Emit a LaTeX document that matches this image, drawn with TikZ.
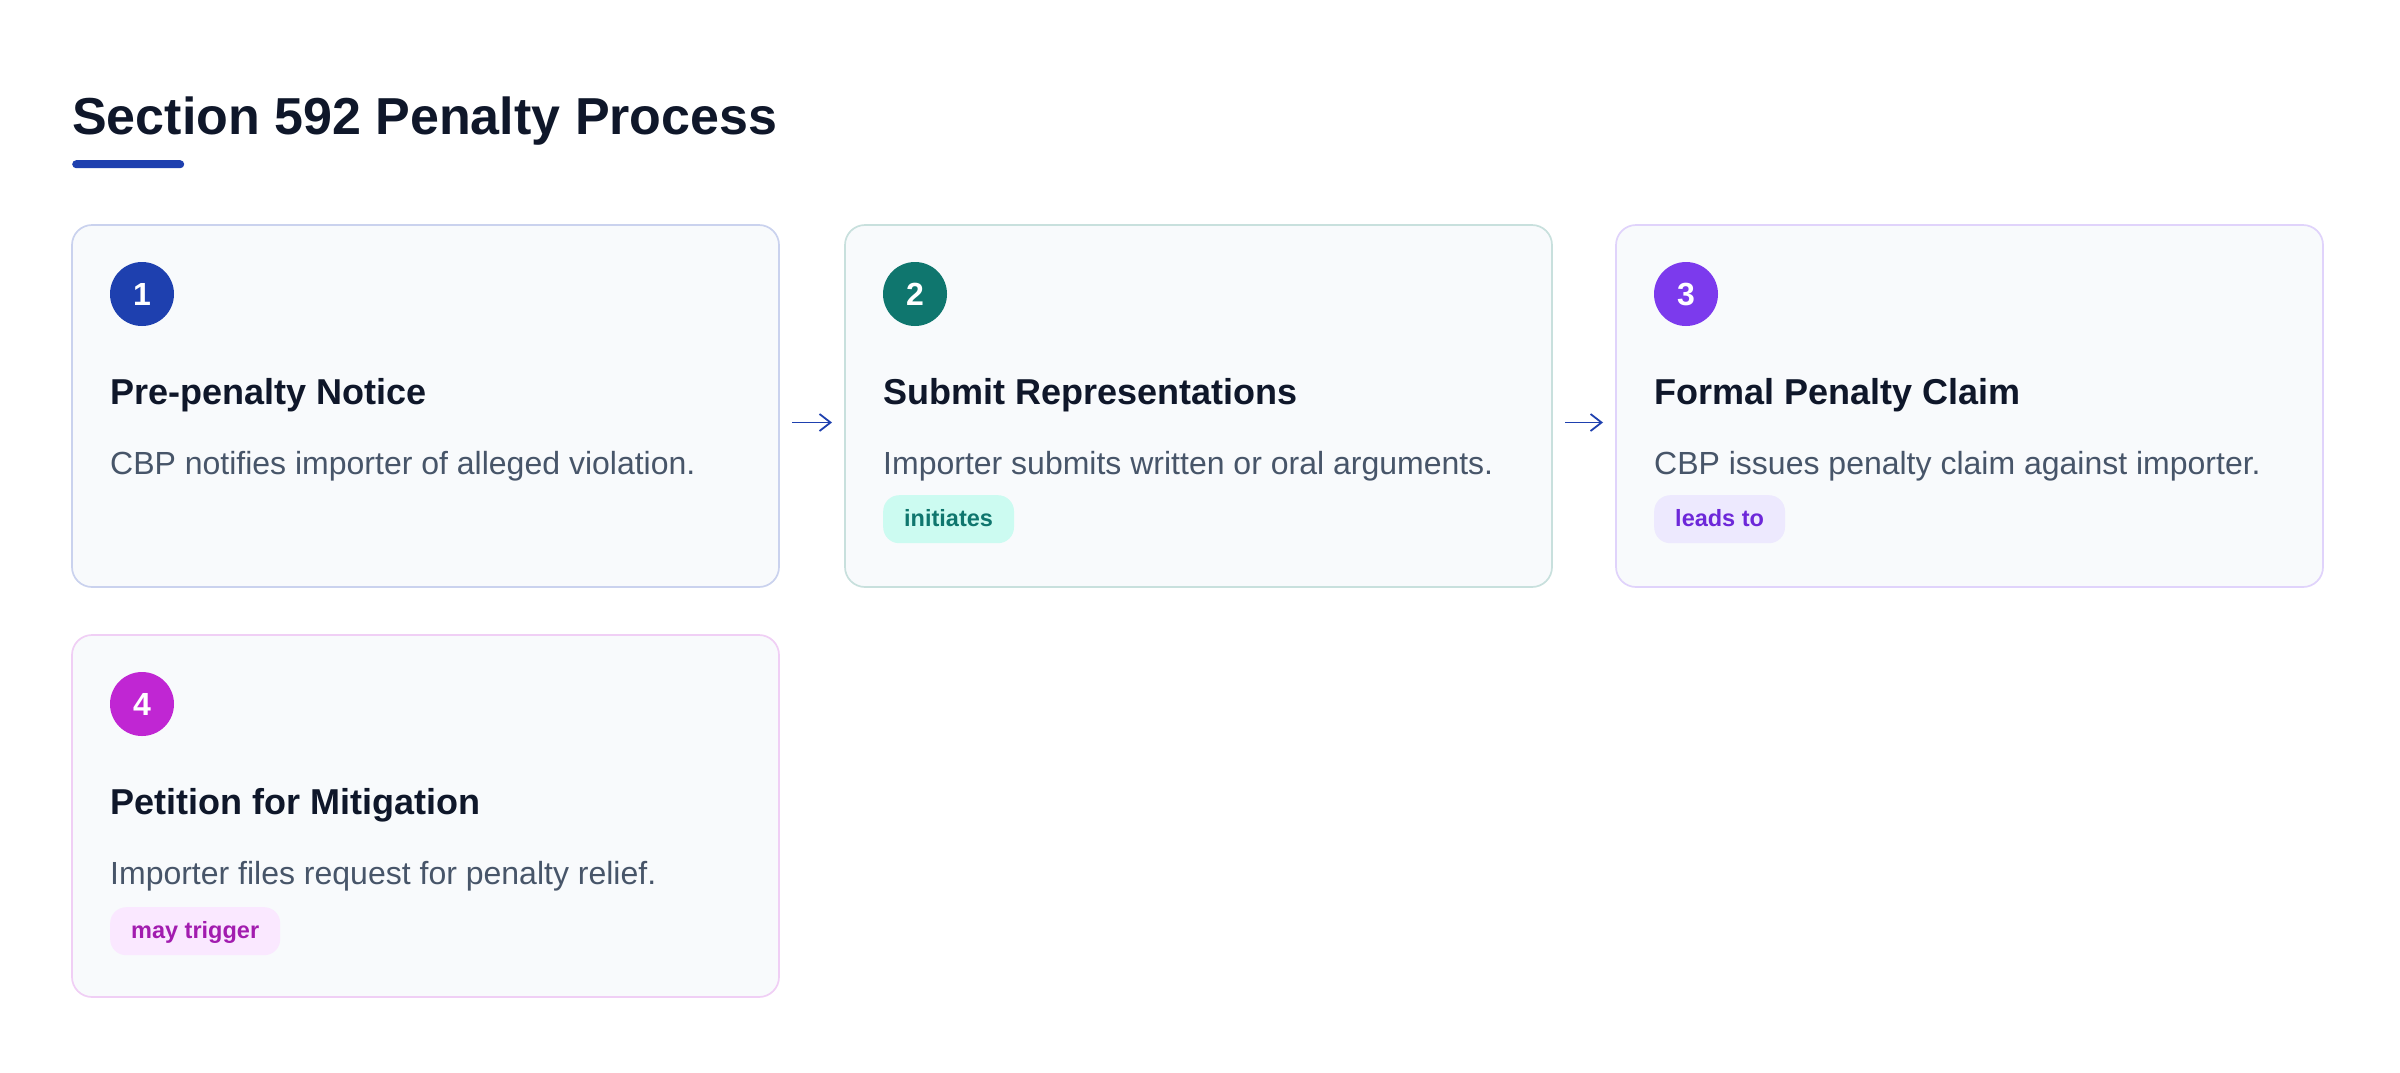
\documentclass[tikz,border=0pt]{standalone}
\usepackage{fontspec}
\setmainfont{Liberation Sans}
\usetikzlibrary{arrows.meta}
\definecolor{ink}{HTML}{0F172A}
\definecolor{slate}{HTML}{475569}
\definecolor{cardfill}{HTML}{F8FAFC}
\definecolor{accent}{HTML}{1E40AF}
\definecolor{arrowblue}{HTML}{1E40AF}
\definecolor{bordA}{HTML}{CAD2EE}
\definecolor{bordB}{HTML}{C8E0DD}
\definecolor{bordC}{HTML}{E0D3FB}
\definecolor{bordD}{HTML}{F0CFF5}
\definecolor{dotA}{HTML}{1E40AF}
\definecolor{dotB}{HTML}{0F766E}
\definecolor{dotC}{HTML}{7C3AED}
\definecolor{dotD}{HTML}{C026D3}
\definecolor{badgeBfill}{HTML}{CCFBF1}
\definecolor{badgeBtext}{HTML}{0F766E}
\definecolor{badgeCfill}{HTML}{EDE9FE}
\definecolor{badgeCtext}{HTML}{6D28D9}
\definecolor{badgeDfill}{HTML}{FAE8FF}
\definecolor{badgeDtext}{HTML}{A21CAF}
\tikzset{
  card/.style={rectangle, rounded corners=20pt, fill=cardfill, line width=1.7pt,
    minimum width=707pt, minimum height=362pt, inner sep=0pt, outer sep=0pt, anchor=north west},
  numdot/.style={circle, minimum size=64pt, inner sep=0pt, text=white,
    font=\fontsize{32}{36}\selectfont\bfseries},
  heading/.style={anchor=base west, inner sep=0pt, text=ink,
    font=\fontsize{36}{42}\selectfont\bfseries},
  desc/.style={anchor=base west, inner sep=0pt, text=slate,
    font=\fontsize{32}{38}\selectfont},
  badge/.style={anchor=north west, rounded corners=16pt, minimum height=48pt,
    inner xsep=21pt, inner ysep=0pt, text height=18.5pt, text depth=4pt,
    font=\fontsize{23.5}{28}\selectfont\bfseries},
  flow/.style={draw=arrowblue, line width=1.8pt,
    -{Straight Barb[length=11pt,width=17pt,line width=1.8pt]}}
}
\newcommand\mkcard[8]{%
  \begin{scope}[shift={(#2,#3)}]
    \node[card, draw=#4] (c#1) at (0,0) {};
    \node[numdot, fill=#5] (n#1) at (70,69) {#6};
    \node[heading] (h#1) at (38,179) {#7};
    \node[desc] (d#1) at (38,249) {#8};
  \end{scope}}
\begin{document}
\begin{tikzpicture}[x=1pt, y=-1pt]
  \useasboundingbox[fill=white] (0,0) rectangle (2400,1072);
  \node[anchor=base west, inner sep=0pt, text=ink,
    font=\fontsize{52}{60}\selectfont\bfseries] (title) at (72,134) {Section 592 Penalty Process};
  \node[fill=accent, rounded corners=4pt, minimum width=112pt, minimum height=8pt,
    inner sep=0pt, anchor=north west] (bar) at (72,160) {};

  \mkcard{1}{72}{225}{bordA}{dotA}{1}{Pre-penalty Notice}{CBP notifies importer of alleged violation.}
  \mkcard{2}{845}{225}{bordB}{dotB}{2}{Submit Representations}{Importer submits written or oral arguments.}
  \mkcard{3}{1616}{225}{bordC}{dotC}{3}{Formal Penalty Claim}{CBP issues penalty claim against importer.}
  \mkcard{4}{72}{635}{bordD}{dotD}{4}{Petition for Mitigation}{Importer files request for penalty relief.}

  \node[badge, fill=badgeBfill, text=badgeBtext] (b2) at (883,495) {initiates};
  \node[badge, fill=badgeCfill, text=badgeCtext] (b3) at (1654,495) {leads to};
  \node[badge, fill=badgeDfill, text=badgeDtext] (b4) at (110,907) {may trigger};

  \draw[flow] ([xshift=13pt, yshift=-16.5pt]c1.east) -- ([xshift=-13pt, yshift=-16.5pt]c2.west);
  \draw[flow] ([xshift=13pt, yshift=-16.5pt]c2.east) -- ([xshift=-13pt, yshift=-16.5pt]c3.west);
\end{tikzpicture}
\end{document}
